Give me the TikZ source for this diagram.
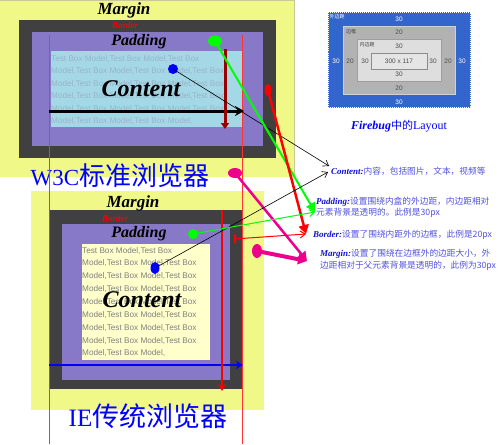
\documentclass[tikz,border=0pt]{standalone}
\usepackage{fontspec}
\newfontfamily\cjk{Noto Sans CJK SC}
\newfontfamily\arialfont{Liberation Sans}
\newfontfamily\timesfont{Liberation Serif}
\usetikzlibrary{shapes.geometric,arrows.meta}
\definecolor{marginyellow}{HTML}{F0F888}
\definecolor{marginedge}{HTML}{C8C898}
\definecolor{borderdark}{HTML}{404040}
\definecolor{padpurple}{HTML}{8878C8}
\definecolor{contentblue}{HTML}{A4D8E6}
\definecolor{contentcream}{HTML}{FFFFCC}
\definecolor{fillerblue}{HTML}{98B4C8}
\definecolor{darkred}{HTML}{990000}
\definecolor{fbblue}{HTML}{3366CC}
\definecolor{notekeyblue}{HTML}{1010D0}
\definecolor{notecjk}{HTML}{5050E0}
\newcommand\notekey[1]{{\timesfont\bfseries\itshape\fontsize{9}{11.5}\selectfont\color{notekeyblue}#1}}

\begin{document}
\begin{tikzpicture}[x=1pt,y=-1pt,
 dot/.style={ellipse, inner sep=0pt, draw=none},
 boxtitle/.style={font=\timesfont\bfseries\itshape\fontsize{17}{17}\selectfont, inner sep=0pt},
 bordertitle/.style={font=\timesfont\bfseries\itshape\fontsize{9}{9}\selectfont, text=red, inner sep=0pt},
 contenttitle/.style={font=\timesfont\bfseries\itshape\fontsize{24}{24}\selectfont, inner sep=0pt},
 filler/.style={font=\arialfont\fontsize{8.2}{12.5}\selectfont, align=left, inner sep=0pt, anchor=north west},
 browser/.style={font=\cjk\fontsize{26}{26}\selectfont, text=blue, inner sep=0pt},
 note/.style={font=\cjk\fontsize{8.7}{11.5}\selectfont, text=notecjk, align=left, inner sep=0pt, anchor=west},
 fbnum/.style={font=\arialfont\fontsize{6.5}{6.5}\selectfont, inner sep=0pt},
 fbtag/.style={font=\cjk\fontsize{5}{5}\selectfont, inner sep=0pt},
 guide/.style={red!80, line width=0.8pt},
 pointer/.style={-{Straight Barb[length=5pt,width=7pt]}, line width=0.6pt},
 thickpointer/.style={-{Triangle[length=9pt,width=10pt]}},
]
\useasboundingbox (0,0) rectangle (500,444);

% W3C box model
\fill[marginyellow] (0,0) rectangle (295,177);
\draw[marginedge] (0,0.5) -- (294.5,0.5) -- (294.5,177);
\fill[borderdark] (19,20) rectangle (276,158);
\fill[padpurple] (32,32) rectangle (263,146);
\fill[contentblue] (51,51) rectangle (243,127);
\node[filler, text=fillerblue] (w3ctext) at (51,55) {Test Box Model,Test Box Model,Test Box\\
Model,Test Box Model,Test Box Model,Test Box\\
Model,Test Box Model,Test Box Model,Test Box\\
Model,Test Box Model,Test Box Model,Test Box\\
Model,Test Box Model,Test Box Model,Test Box\\
Model,Test Box Model,Test Box Model,};
\node[boxtitle] (w3cmargin) at (124,10) {Margin};
\node[bordertitle] (w3cborder) at (125,25) {Border};
\node[boxtitle, font=\timesfont\bfseries\itshape\fontsize{16}{16}\selectfont] (w3cpadding) at (139,42) {Padding};
\node[contenttitle] (w3ccontent) at (141,89) {Content};
\node[browser] (w3ctitle) at (120,176) {{\timesfont\fontsize{23}{23}\selectfont W3C}标准浏览器};

% IE box model
\fill[marginyellow] (31,191) rectangle (264,410);
\fill[borderdark] (49,210) rectangle (242,389);
\fill[padpurple] (62,224) rectangle (230,380);
\fill[contentcream] (82,244) rectangle (210,360);
\node[filler, text=gray, font=\arialfont\fontsize{8.2}{12.85}\selectfont] (ietext) at (82,247) {Test Box Model,Test Box\\
Model,Test Box Model,Test Box\\
Model,Test Box Model,Test Box\\
Model,Test Box Model,Test Box\\
Model,Test Box Model,Test Box\\
Model,Test Box Model,Test Box\\
Model,Test Box Model,Test Box\\
Model,Test Box Model,Test Box\\
Model,Test Box Model,};
\node[boxtitle] (iemargin) at (133,203) {Margin};
\node[bordertitle] (ieborder) at (115,218) {Border};
\node[boxtitle, font=\timesfont\bfseries\itshape\fontsize{16}{16}\selectfont] (iepadding) at (139,234) {Padding};
\node[contenttitle] (iecontent) at (142,300) {Content};
\node[browser, font=\cjk\fontsize{27}{27}\selectfont] (ietitle) at (148,416) {{\timesfont\fontsize{25}{25}\selectfont IE}传统浏览器};

% width guides
\coordinate (leftguide) at (49,35);
\coordinate (leftfoot) at (49,444);
\coordinate (rightguide) at (242,35);
\coordinate (rightfoot) at (242,444);
\draw[guide] (leftguide) -- (leftfoot);
\draw[guide] (rightguide) -- (rightfoot);
\coordinate (w3cwidthl) at (49,111);
\coordinate (w3cwidthr) at (244,111);
\draw[line width=3pt, -{Stealth[length=9pt,width=10pt]}] (w3cwidthl) -- (w3cwidthr);
\coordinate (w3cheightt) at (225,49);
\coordinate (w3cheightb) at (225,129);
\draw[darkred, line width=3pt, -{Triangle[length=6pt,width=8pt]}] (w3cheightt) -- (w3cheightb);
\coordinate (iewidthl) at (49,365);
\coordinate (iewidthr) at (243,365);
\draw[blue, line width=2pt, -{Stealth[length=7pt,width=8pt]}] (iewidthl) -- (iewidthr);
\coordinate (ieheightt) at (222,210);
\coordinate (ieheightb) at (222,391);
\draw[red, line width=2pt, -{Stealth[length=7pt,width=8pt]}] (ieheightt) -- (ieheightb);

% Firebug layout
\fill[fbblue] (328,12) rectangle (471,108);
\draw[white, line width=0.4pt, dash pattern=on 1pt off 1pt] (328.5,12.5) rectangle (470.5,107.5);
\filldraw[fill=black!30, draw=black!18] (343,26) rectangle (455,94);
\filldraw[fill=black!13, draw=black!38] (357,39) rectangle (441,81);
\filldraw[fill=black!10, draw=black!45] (371,53) rectangle (427,69);
\node[fbtag, text=white] (fbmargin) at (337,17) {外边距};
\node[fbtag, text=black!75] (fbborder) at (351,32) {边框};
\node[fbtag, text=black!75] (fbpadding) at (367,45) {内边距};
\node[fbnum, text=white] (fbmt) at (399,19) {30};
\node[fbnum, text=white] (fbml) at (336,61) {30};
\node[fbnum, text=white] (fbmr) at (462,61) {30};
\node[fbnum, text=white] (fbmb) at (399,102) {30};
\node[fbnum, text=black!70] (fbbt) at (399,32) {20};
\node[fbnum, text=black!70] (fbbl) at (350,61) {20};
\node[fbnum, text=black!70] (fbbr) at (448,61) {20};
\node[fbnum, text=black!70] (fbbb) at (399,88) {20};
\node[fbnum, text=black!70] (fbpt) at (399,46) {30};
\node[fbnum, text=black!70] (fbpl) at (365,61) {30};
\node[fbnum, text=black!70] (fbpr) at (433,61) {30};
\node[fbnum, text=black!70] (fbpb) at (399,74) {30};
\node[fbnum, text=black!70] (fbsize) at (399,61) {300 x 117};
\node[inner sep=0pt, text=blue] (fbcaption) at (399,126) {{\timesfont\bfseries\itshape\fontsize{12}{12}\selectfont Firebug}{\cjk\fontsize{11}{11}\selectfont 中的}{\timesfont\fontsize{12}{12}\selectfont Layout}};

% notes
\node[note] (contentnote) at (331,171.5) {\notekey{Content:}内容，包括图片，文本，视频等};
\node[note] (paddingnote) at (316,207.5) {\notekey{Padding:}设置围绕内盒的外边距，内边距相对\\元素背景是透明的。此例是30px};
\node[note] (bordernote) at (313,235) {\notekey{Border:}设置了围绕内距外的边框，此例是20px};
\node[note] (marginnote) at (320,260) {\notekey{Margin:}设置了围绕在边框外的边距大小，外\\边距相对于父元素背景是透明的，此例为30px};
\coordinate (contenttipa) at (329,166);
\coordinate (contenttipb) at (328,172);
\coordinate (paddingtip) at (315,212);
\coordinate (bordertip) at (306,234);
\coordinate (margintip) at (307,261);

% pointers
\node[dot, fill=green, minimum width=14pt, minimum height=11pt] (w3cpaddot) at (215,41) {};
\node[dot, fill=blue, minimum width=10pt, minimum height=10pt] (w3ccontdot) at (173,69) {};
\node[dot, fill=red, minimum width=7pt, minimum height=12pt] (w3cborddot) at (268,90) {};
\node[dot, fill=magenta, minimum width=14pt, minimum height=10pt] (w3cmargdot) at (235,173) {};
\node[dot, fill=green, minimum width=10pt, minimum height=10pt] (iepaddot) at (193,234) {};
\node[dot, fill=blue, minimum width=9pt, minimum height=12pt] (iecontdot) at (155,268) {};
\coordinate (iebordmark) at (234,239);
\node[dot, fill=magenta, minimum width=10pt, minimum height=14pt] (iemargdot) at (257,251) {};
\draw[pointer, black] (w3ccontdot.center) -- (contenttipa);
\draw[thickpointer, green, line width=2pt] (w3cpaddot.center) -- (paddingtip);
\draw[thickpointer, red, line width=2.5pt] (w3cborddot.center) -- (bordertip);
\draw[thickpointer, magenta, line width=2.5pt] (w3cmargdot.center) -- (margintip);
\draw[pointer, black] (iecontdot.center) -- (contenttipb);
\draw[pointer, green, line width=1pt] (iepaddot.center) -- (paddingtip);
\draw[red, line width=1pt, {Bar[width=9pt,line width=2pt]}-{Straight Barb[length=5pt,width=7pt]}] (iebordmark) -- (bordertip);
\draw[thickpointer, magenta, line width=4pt] (iemargdot.center) -- (margintip);
\end{tikzpicture}
\end{document}
